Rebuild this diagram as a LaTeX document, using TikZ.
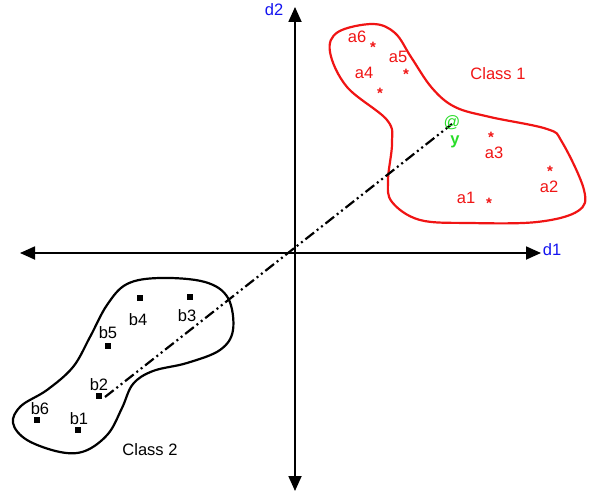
\documentclass[tikz,border=0pt]{standalone}
\usepackage{fontspec}
\setmainfont{Liberation Sans}
\usetikzlibrary{arrows.meta}
\definecolor{myred}{RGB}{240,20,20}
\definecolor{myblue}{RGB}{20,20,240}
\definecolor{mygreen}{RGB}{40,220,40}
\begin{document}
\begin{tikzpicture}[x=1pt,y=-1pt,
  lbl/.style={inner sep=0pt,font=\fontsize{16.5}{19}\selectfont},
  alab/.style={lbl,text=myred},
  blab/.style={lbl,text=black},
  astar/.style={inner sep=0pt,text=myred,text height=11pt,text depth=-5pt,font=\bfseries\fontsize{15}{15}\selectfont},
  bsq/.style={fill=black,minimum size=5.5pt,inner sep=0pt},
  axis/.style={line width=1.8pt,{Triangle[length=15pt,width=13pt]}-{Triangle[length=15pt,width=13pt]}},
  blob/.style={line width=2.2pt,line join=round},
  dashdot/.style={line width=2.2pt,dash pattern=on 11pt off 3.5pt on 2pt off 3.5pt on 2pt off 3.5pt}]
\useasboundingbox (0,0) rectangle (596,497);
% axes
\coordinate (L) at (20,253);
\coordinate (R) at (541,253);
\coordinate (T) at (295,7);
\coordinate (B) at (295,491);
\draw[axis] (L) -- (R);
\draw[axis] (T) -- (B);
\node[lbl,text=myblue] (d1) at (552,250) {d1};
\node[lbl,text=myblue] (d2) at (274,10) {d2};
% class 1 blob
\draw[blob,myred] plot[smooth cycle,tension=0.6] coordinates {
 (373,24) (395,33) (411,57) (432,88) (455,107) (490,117) (547,129) (562,142)
 (584,190) (578,211) (537,222) (470,223) (420,220) (392,202) (388,180)
 (392,143) (387,120) (347,87) (330,52) (338,32)};
% class 2 blob
\draw[blob,black] plot[smooth cycle,tension=0.6] coordinates {
 (160,278) (205,282) (228,298) (233,330) (220,350) (187,363) (153,371)
 (133,384) (122,408) (108,434) (85,451) (60,452) (27,440) (13,423)
 (21,406) (47,390) (73,367) (90,337) (107,305) (127,284)};
% projection line
\coordinate (p0) at (105,397);
\coordinate (p1) at (452,124);
\draw[dashdot] (p0) -- (p1);
% class 1 points
\node[astar] (s6) at (373,47) {*};
\node[astar] (s5) at (406,74) {*};
\node[astar] (s4) at (380,93) {*};
\node[astar] (s3) at (491,137) {*};
\node[astar] (s2) at (550,171) {*};
\node[astar] (s1) at (489,203) {*};
\node[alab] (a6) at (357,37) {a6};
\node[alab] (a5) at (398,57) {a5};
\node[alab] (a4) at (364,73) {a4};
\node[alab] (a3) at (494,153) {a3};
\node[alab] (a2) at (549,187) {a2};
\node[alab] (a1) at (466,198) {a1};
\node[alab] (c1) at (498,74) {Class 1};
\node[lbl,text=mygreen] (at) at (452,123) {@};
\node[lbl,text=mygreen,font=\bfseries\fontsize{16.5}{19}\selectfont] (y) at (455,142) {y};
% class 2 points
\node[bsq] (q4) at (140,298) {};
\node[bsq] (q3) at (190,297) {};
\node[bsq] (q5) at (108,346) {};
\node[bsq] (q2) at (99,396) {};
\node[bsq] (q6) at (37,420) {};
\node[bsq] (q1) at (78,430) {};
\node[blab] (b4) at (138,320) {b4};
\node[blab] (b3) at (187,316) {b3};
\node[blab] (b5) at (108,333) {b5};
\node[blab] (b2) at (99,385) {b2};
\node[blab] (b6) at (40,409) {b6};
\node[blab] (b1) at (79,419) {b1};
\node[blab] (c2) at (150,450) {Class 2};
\end{tikzpicture}
\end{document}
